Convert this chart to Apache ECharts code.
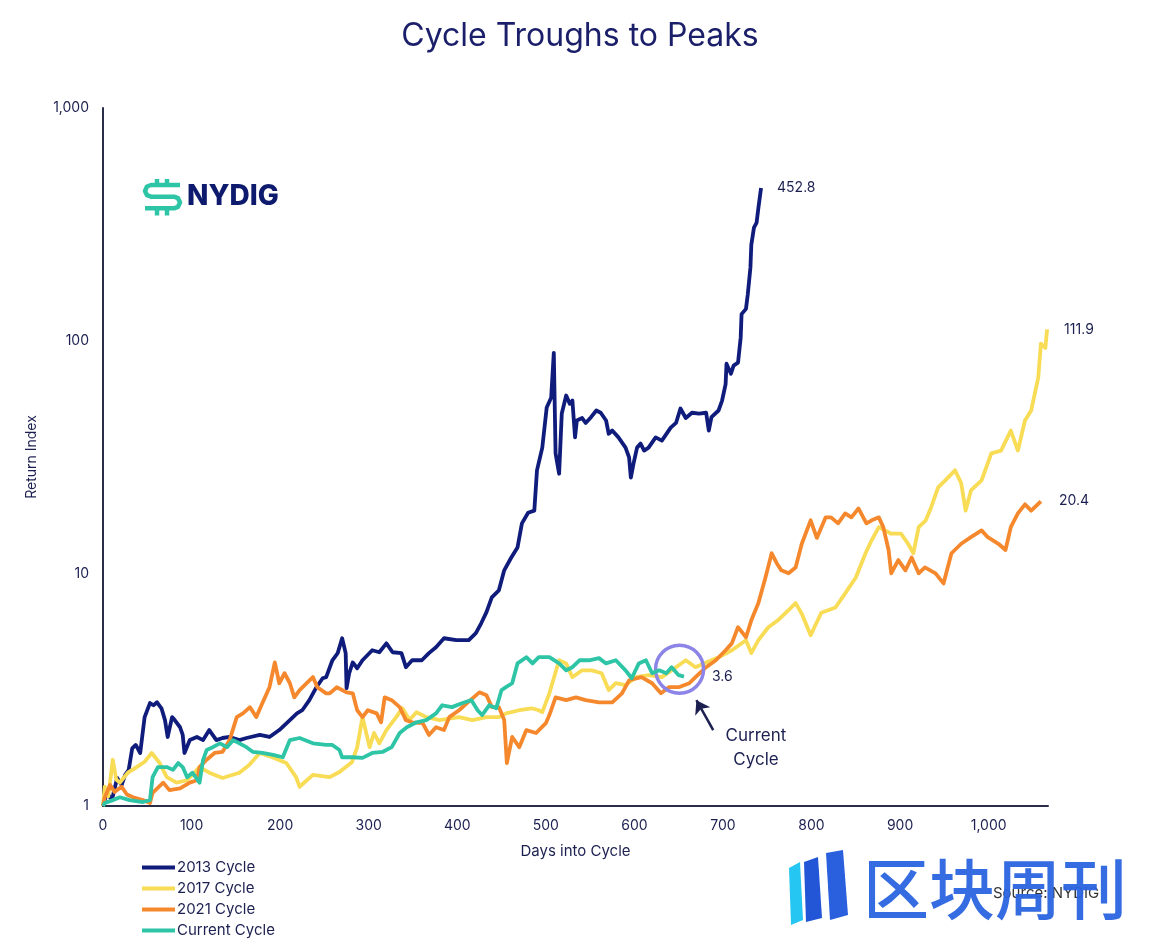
<!DOCTYPE html>
<html><head><meta charset="utf-8">
<script src="https://cdn.jsdelivr.net/npm/echarts@6/dist/echarts.min.js"></script>
<style>html,body{margin:0;padding:0;background:#fff}#c{width:1160px;height:942px}</style>
</head><body><div id="c"></div>
<script>
const titleText = 'Cycle Troughs to Peaks';
const seriesNames = ['2013 Cycle', '2017 Cycle', '2021 Cycle', 'Current Cycle'];
const seriesColors = ['#0f1c7c', '#f8dc55', '#f5882c', '#2ec4a6'];
const yTickValues = [1, 10, 100, 1000];
const xTickStep = 100;

const cycle2013 = [[0,1.00],[4.5,1.14],[10,1.06],[16,1.32],[21,1.23],[25,1.36],[29,1.43],[33,1.77],[37,1.83],[42,1.69],[47,2.41],[53,2.77],[57,2.71],[61,2.79],[66,2.63],[70,2.34],[73,1.98],[78,2.41],[81,2.34],[87,2.18],[90,2.02],[92,1.69],[98,1.92],[106,1.98],[113,1.92],[120,2.12],[128,1.92],[135,1.96],[143,1.98],[154,1.92],[162,1.96],[177,2.02],[188,1.98],[199,2.12],[211,2.34],[219,2.50],[225,2.58],[233,2.85],[241,3.24],[248,3.54],[252,3.58],[259,4.23],[265,4.54],[270,5.26],[274,4.54],[275,3.21],[278,3.72],[282,4.14],[287,3.91],[293,4.23],[304,4.67],[312,4.58],[320,5.00],[327,4.58],[337,4.54],[342,3.95],[349,4.23],[360,4.23],[368,4.54],[376,4.81],[385,5.26],[399,5.16],[413,5.16],[421,5.53],[427,6.10],[433,6.81],[439,7.89],[447,8.45],[453,10.3],[461,11.7],[468,12.9],[473,16.4],[480,18.2],[487,18.6],[490,27.7],[496,34.7],[501,51.6],[506,56.8],[509,88.7],[511,32.8],[515,26.8],[518,48.6],[523,58.1],[527,53.6],[530,55.3],[533,38.4],[535,45.4],[541,46.5],[545,44.3],[551,46.9],[557,50.1],[562,49.0],[568,45.4],[571,39.8],[575,41.1],[582,38.4],[590,34.7],[594,31.5],[596,25.8],[599,29.6],[603,34.7],[607,36.1],[611,33.7],[616,34.7],[624,38.4],[631,37.2],[641,42.3],[647,44.3],[652,51.1],[658,46.5],[665,49.0],[673,48.6],[681,49.0],[684,41.1],[687,46.9],[695,50.1],[699,55.3],[703,65.0],[704,79.6],[709,72.1],[712,78.1],[717,80.5],[720,103],[721,130],[726,137],[728,158],[731,206],[732,258],[735,306],[738,322],[740,372],[743,452.8]];

const cycle2017 = [[0,1.00],[2,1.21],[6,1.10],[11,1.58],[15,1.30],[19,1.26],[28,1.39],[38,1.47],[47,1.55],[55,1.69],[64,1.53],[72,1.33],[83,1.26],[95,1.29],[109,1.47],[120,1.39],[135,1.32],[154,1.39],[165,1.50],[177,1.69],[191,1.62],[207,1.53],[218,1.33],[222,1.21],[237,1.36],[256,1.33],[267,1.40],[281,1.54],[287,1.79],[293,2.41],[301,1.79],[306,2.06],[312,1.86],[320,2.12],[331,2.41],[338,2.63],[346,2.34],[354,2.53],[365,2.41],[380,2.34],[402,2.41],[417,2.34],[433,2.41],[447,2.41],[455,2.50],[470,2.58],[484,2.63],[492,2.58],[496,2.53],[504,3.05],[515,4.23],[523,4.10],[530,3.58],[541,3.83],[552,3.83],[563,3.72],[571,3.15],[579,3.37],[590,3.31],[602,3.58],[616,3.65],[631,3.58],[647,3.95],[658,4.23],[669,3.95],[681,4.14],[695,4.36],[710,4.67],[726,5.16],[732,4.54],[740,5.16],[751,5.85],[762,6.28],[774,6.94],[782,7.45],[789,6.70],[799,5.42],[811,6.77],[827,7.13],[838,8.20],[850,9.60],[861,12.2],[868,13.9],[876,15.8],[883,15.3],[890,14.8],[901,14.8],[909,13.4],[915,12.2],[921,15.8],[929,16.9],[935,19.2],[943,23.4],[951,25.1],[962,27.7],[969,24.4],[974,18.6],[980,22.7],[992,25.1],[1003,32.8],[1014,33.7],[1025,41.1],[1033,33.7],[1041,45.4],[1048,50.1],[1056,69.4],[1059,97.0],[1064,93.0],[1066,111.9]];

const cycle2021 = [[0,1.00],[2,1.09],[8,1.23],[13,1.15],[21,1.21],[27,1.12],[34,1.09],[45,1.06],[53,1.03],[56,1.14],[68,1.26],[75,1.17],[87,1.19],[98,1.26],[106,1.29],[109,1.47],[117,1.58],[126,1.69],[135,1.71],[143,1.92],[151,2.41],[158,2.50],[166,2.66],[173,2.41],[180,2.77],[188,3.24],[194,4.14],[199,3.37],[205,3.72],[211,3.37],[216,2.93],[222,3.15],[230,3.37],[237,3.58],[242,3.24],[252,3.05],[256,3.05],[264,3.24],[275,3.08],[282,3.05],[287,2.58],[293,2.41],[299,2.58],[309,2.50],[314,2.29],[318,2.93],[326,2.85],[335,2.66],[342,2.34],[349,2.29],[361,2.27],[368,2.02],[376,2.18],[385,2.12],[391,2.41],[402,2.58],[411,2.77],[425,3.08],[433,2.99],[439,2.66],[447,2.66],[453,2.34],[456,1.53],[462,1.98],[470,1.79],[478,2.12],[489,2.06],[500,2.27],[504,2.46],[511,2.93],[523,2.85],[534,2.93],[545,2.85],[560,2.79],[575,2.79],[586,3.05],[594,3.47],[608,3.58],[620,3.37],[630,3.05],[639,3.24],[650,3.24],[662,3.37],[669,3.58],[681,3.95],[692,4.23],[703,4.67],[710,5.00],[717,5.87],[726,5.31],[732,6.28],[740,7.45],[748,9.60],[755,12.2],[761,11.0],[766,10.3],[774,10.0],[782,10.6],[789,13.4],[799,16.9],[806,14.2],[816,17.4],[822,17.4],[830,16.4],[838,18.1],[845,17.4],[853,19.0],[862,16.4],[868,16.9],[876,17.4],[881,15.8],[887,12.6],[890,10.0],[898,11.4],[906,10.3],[913,11.7],[921,10.0],[928,10.6],[940,10.0],[949,9.05],[958,12.2],[969,13.4],[980,14.3],[992,15.3],[999,14.3],[1011,13.4],[1019,12.6],[1025,15.8],[1033,18.1],[1041,19.8],[1048,18.6],[1059,20.4]];

const cycleCurrent = [[0,1.00],[2,1.03],[11,1.06],[19,1.09],[30,1.06],[45,1.04],[53,1.06],[56,1.33],[62,1.47],[72,1.47],[79,1.43],[85,1.53],[90,1.47],[95,1.33],[101,1.39],[109,1.26],[113,1.58],[117,1.74],[124,1.79],[132,1.86],[140,1.79],[147,1.92],[154,1.86],[162,1.79],[169,1.71],[180,1.69],[192,1.66],[203,1.62],[211,1.92],[222,1.96],[237,1.86],[252,1.83],[259,1.83],[267,1.74],[270,1.62],[282,1.62],[293,1.61],[304,1.69],[316,1.71],[326,1.79],[335,2.06],[343,2.18],[354,2.29],[365,2.34],[376,2.50],[383,2.71],[394,2.66],[406,2.77],[416,2.85],[423,2.58],[428,2.46],[436,2.71],[444,2.63],[450,3.15],[455,3.24],[462,3.37],[468,4.10],[478,4.36],[485,4.10],[492,4.36],[504,4.36],[515,4.10],[523,3.83],[530,3.95],[538,4.23],[549,4.23],[560,4.32],[568,4.10],[579,4.23],[590,3.83],[597,3.54],[605,4.10],[613,4.23],[620,3.72],[628,3.83],[636,3.72],[642,3.95],[650,3.65],[656,3.60]];

const seriesData = [cycle2013, cycle2017, cycle2021, cycleCurrent];
const endLabelGaps = [16, 17, 18, 28];
const xMax = 1067;

const txt = '#1c2050';
const FONT = 'Inter, "Noto Sans", sans-serif';
const chart = echarts.init(document.getElementById('c'), null, {renderer: 'canvas'});

const series = seriesNames.map((name, i) => ({
  name, type: 'line', data: seriesData[i], showSymbol: false, symbol: 'none',
  lineStyle: {color: seriesColors[i], width: 3.8, join: 'round'},
  itemStyle: {color: seriesColors[i]},
  z: 2 + i,
  endLabel: {show: true, distance: endLabelGaps[i], color: txt, fontSize: 14, fontFamily: FONT,
    formatter: p => Number(p.value[1]).toFixed(1)}
}));

series[3].markPoint = {
  silent: true, symbol: 'circle', symbolSize: 48, label: {show: false},
  itemStyle: {color: 'rgba(0,0,0,0)', borderColor: '#8c84e6', borderWidth: 3.5},
  data: [{coord: [651, 3.87]}]
};
series[3].markLine = {
  silent: true, symbol: ['none', 'arrow'], symbolSize: 13,
  lineStyle: {color: '#1c2050', width: 2.5, type: 'solid'}, label: {show: false},
  data: [[{coord: [689, 2.12]}, {coord: [670, 2.85]}]]
};

const logoTeal = '#2ec4a6';
const logoStroke = {stroke: logoTeal, fill: 'none', lineWidth: 4.5};

chart.setOption({
  animation: false,
  backgroundColor: '#fff',
  textStyle: {fontFamily: FONT},
  title: {text: titleText, left: 'center', top: 15,
    textStyle: {fontSize: 32, fontWeight: 'normal', color: '#1b1f6a', fontFamily: FONT}},
  legend: {
    orient: 'vertical', left: 137, top: 855, itemGap: 6, itemWidth: 33, itemHeight: 4,
    icon: 'rect', data: seriesNames, height: 84,
    textStyle: {fontSize: 15, color: txt, lineHeight: 15, padding: [0, 0, 0, -3], fontFamily: FONT}
  },
  grid: {left: 103, right: 112, top: 108, bottom: 136, containLabel: false},
  xAxis: {
    type: 'value', min: 0, max: xMax, interval: xTickStep,
    name: 'Days into Cycle', nameLocation: 'middle', nameGap: 38,
    nameTextStyle: {fontSize: 15, color: txt, fontFamily: FONT},
    axisLine: {show: true, onZero: false, lineStyle: {color: '#2a2d48', width: 2}},
    axisTick: {show: false}, splitLine: {show: false},
    axisLabel: {margin: 13, fontSize: 14, color: txt, showMaxLabel: false, fontFamily: FONT,
      formatter: v => (v % xTickStep === 0) ? v.toLocaleString('en-US') : ''}
  },
  yAxis: {
    type: 'log', logBase: 10, min: yTickValues[0], max: yTickValues[yTickValues.length - 1],
    name: 'Return Index', nameLocation: 'middle', nameGap: 64, nameRotate: 90,
    nameTextStyle: {fontSize: 14, color: txt, fontFamily: FONT},
    axisLine: {show: true, lineStyle: {color: '#2a2d48', width: 2}},
    axisTick: {show: false}, splitLine: {show: false}, minorTick: {show: false},
    axisLabel: {margin: 14, fontSize: 14, color: txt, fontFamily: FONT,
      formatter: v => yTickValues.includes(Math.round(v)) ? Math.round(v).toLocaleString('en-US') : ''}
  },
  graphic: [
    {type: 'polyline', silent: true, shape: {points: [[180,185],[151,185],[147,186.5],[145,191],[147,195.2],[151,196.7],[174,196.7],[178,198.2],[180,202.5],[178,206.8],[174,208.3],[145,208.3]]},
      style: Object.assign({lineJoin: 'round'}, logoStroke)},
    {type: 'line', silent: true, shape: {x1: 157, y1: 179, x2: 157, y2: 185}, style: logoStroke},
    {type: 'line', silent: true, shape: {x1: 167, y1: 179, x2: 167, y2: 185}, style: logoStroke},
    {type: 'line', silent: true, shape: {x1: 157, y1: 208, x2: 157, y2: 215.5}, style: logoStroke},
    {type: 'line', silent: true, shape: {x1: 167, y1: 208, x2: 167, y2: 215.5}, style: logoStroke},
    {type: 'text', silent: true, x: 187, y: 197, style: {text: 'NYDIG', fontSize: 28, fontWeight: 800, fill: '#0e1a6e', fontFamily: FONT, verticalAlign: 'middle'}},
    {type: 'text', silent: true, x: 756, y: 748, style: {text: 'Current\nCycle', fontSize: 17, lineHeight: 24, fill: txt, fontFamily: FONT, align: 'center', verticalAlign: 'middle'}},
    {type: 'text', silent: true, x: 993, y: 893, z: 1, style: {text: 'Source: NYDIG', fontSize: 15, fill: '#333', fontFamily: FONT, verticalAlign: 'middle'}},
    {type: 'polygon', silent: true, z: 10, shape: {points: [[789,868],[800,862],[803,920],[791,925]]}, style: {fill: '#25c6f2'}},
    {type: 'polygon', silent: true, z: 10, shape: {points: [[804,862],[818,857],[822,918],[806,922]]}, style: {fill: '#2356d6'}},
    {type: 'polygon', silent: true, z: 10, shape: {points: [[826,853],[843,850],[848,915],[830,920]]}, style: {fill: '#2a5fde'}},
    {type: 'text', silent: true, z: 10, x: 863, y: 889, style: {text: '区块周刊', fontSize: 66, fontWeight: 500, fill: 'rgba(42,100,223,0.95)', fontFamily: '"Noto Sans CJK SC", sans-serif', verticalAlign: 'middle'}}
  ],
  series
});
</script>
</body></html>
